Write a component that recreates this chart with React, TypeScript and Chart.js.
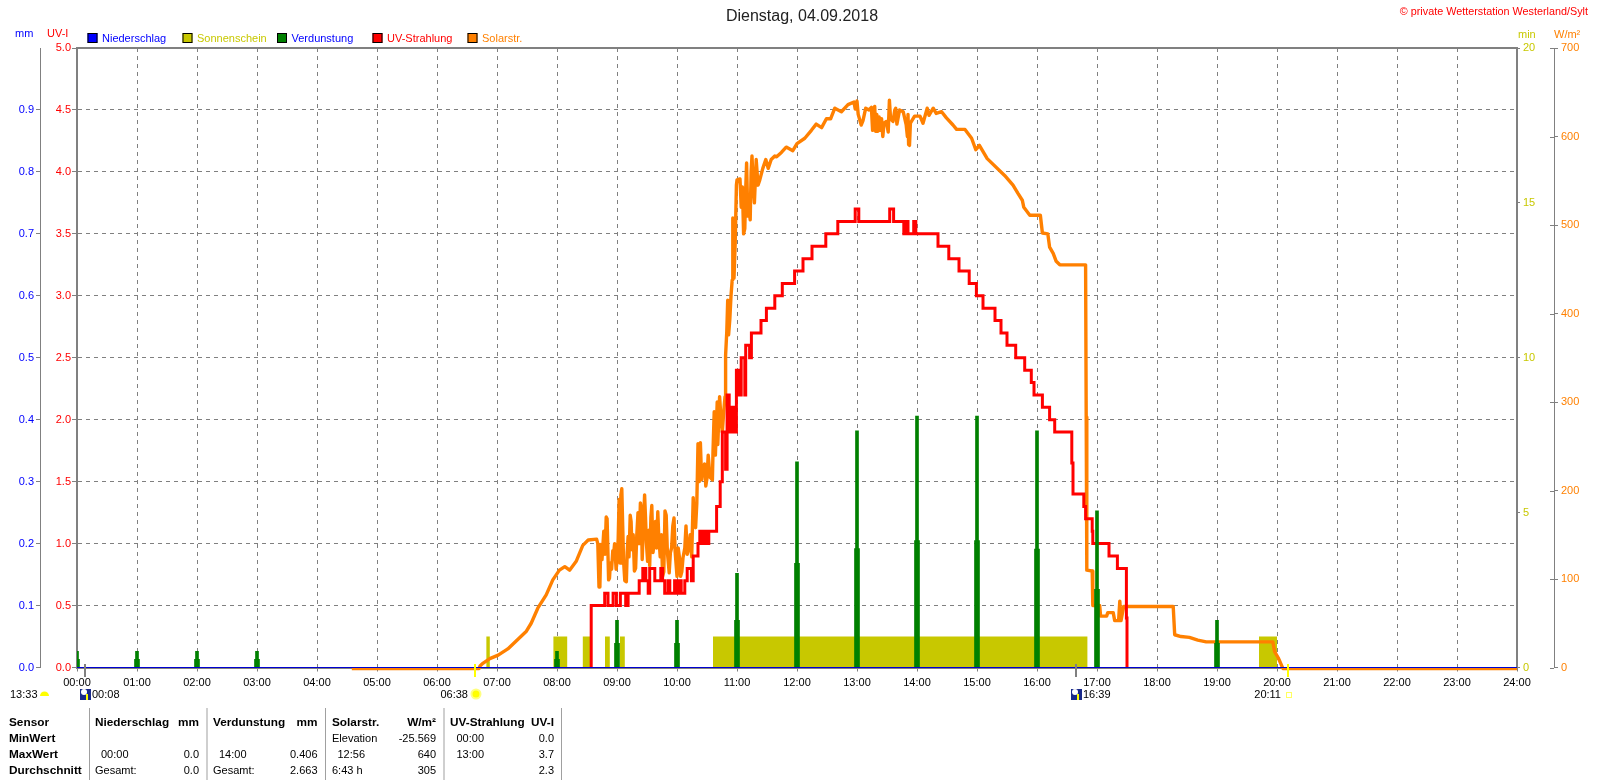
import React, { useEffect, useRef } from "react";
import { Chart, registerables } from "chart.js";

Chart.register(...registerables);

const chartTitle = "Dienstag, 04.09.2018";
const copyright = "© private Wetterstation Westerland/Sylt";

// Solar radiation, W/m², read in five stretches of the day
const solarRiseHours = [
  4.58, 6.7, 6.72, 6.77, 6.88, 7.02, 7.18, 7.35, 7.49, 7.57,
  7.68, 7.82, 7.93, 8.04, 8.13, 8.21, 8.32, 8.43, 8.52, 8.66,
];
const solarRiseWatts = [
  -1.3, -1.3, 2, 5, 10, 14, 21, 32, 41, 50,
  67, 82, 99, 110, 114, 110, 120, 138, 144, 145,
];
const solarNoiseHours = [
  8.68, 8.7, 8.715, 8.73, 8.75, 8.78, 8.8, 8.82, 8.835, 8.86,
  8.875, 8.89, 8.91, 8.93, 8.945, 8.96, 8.985, 9.0, 9.02, 9.035,
  9.05, 9.065, 9.08, 9.095, 9.11, 9.13, 9.156, 9.17, 9.185, 9.2,
  9.22, 9.235, 9.25, 9.27, 9.29, 9.31, 9.33, 9.35, 9.37, 9.39,
  9.405, 9.42, 9.44, 9.46, 9.475, 9.49, 9.51, 9.53, 9.545, 9.565,
  9.58, 9.6, 9.62, 9.64, 9.66, 9.68, 9.695, 9.72, 9.74, 9.76,
  9.78, 9.8, 9.82, 9.84, 9.87, 9.89, 9.91, 9.93, 9.95, 9.97,
  10.0, 10.02, 10.04, 10.06, 10.08, 10.1, 10.13, 10.15, 10.17, 10.2,
  10.22, 10.245, 10.27, 10.285, 10.31, 10.33, 10.35, 10.37, 10.39, 10.41,
  10.43, 10.46, 10.48, 10.5, 10.52, 10.55, 10.59, 10.6, 10.62, 10.64,
  10.67, 10.68, 10.71, 10.73, 10.755, 10.78, 10.8, 10.81, 10.83, 10.845,
  10.86, 10.88, 10.9, 10.92, 10.93, 10.95, 10.97, 10.99, 11.0, 11.05,
  11.07, 11.09, 11.11, 11.13, 11.145, 11.16, 11.18, 11.2, 11.22, 11.235,
  11.25, 11.27, 11.29, 11.32, 11.35, 11.38, 11.43, 11.48, 11.52, 11.57,
];
const solarNoiseWatts = [
  140, 91, 92, 139, 122, 154, 128, 170, 168, 99,
  101, 118, 111, 132, 129, 140, 111, 120, 146, 190,
  118, 195, 202, 160, 120, 98, 97, 130, 148, 125,
  172, 165, 133, 150, 109, 112, 150, 175, 140, 186,
  180, 122, 160, 195, 170, 141, 120, 155, 115, 170,
  183, 130, 141, 165, 135, 176, 150, 125, 150, 103,
  108, 177, 172, 130, 107, 130, 135, 160, 169, 130,
  103, 135, 125, 103, 108, 124, 135, 160, 128, 135,
  150, 125, 192, 170, 158, 185, 253, 210, 254, 212,
  225, 230, 205, 214, 240, 215, 212, 244, 289, 240,
  300, 252, 306, 285, 266, 290, 306, 353, 380, 415,
  376, 393, 420, 438, 508, 440, 480, 545, 551, 552,
  520, 543, 490, 496, 540, 570, 510, 517, 506, 560,
  578, 545, 525, 574, 545, 551, 564, 574, 564, 574,
];
const solarClimbHours = [
  11.63, 11.66, 11.74, 11.82, 11.93, 12.0, 12.13, 12.24, 12.32, 12.41,
  12.49, 12.56, 12.63, 12.74, 12.85, 12.95, 12.97, 13.0,
];
const solarClimbWatts = [
  578, 577, 582, 588, 584, 592, 598, 607, 614, 610,
  620, 620, 632, 628, 636, 639, 631, 640,
];
const solarPeakHours = [
  13.02, 13.07, 13.1, 13.145, 13.2, 13.24, 13.26, 13.28, 13.295, 13.31,
  13.33, 13.35, 13.37, 13.39, 13.41, 13.43, 13.45, 13.49, 13.52, 13.54,
  13.56, 13.6, 13.63, 13.645, 13.665, 13.71, 13.77, 13.82, 13.84, 13.85,
  13.86, 13.875, 13.89, 13.96, 14.05, 14.1, 14.17, 14.2, 14.27, 14.32,
  14.41, 14.49, 14.6, 14.66, 14.8, 14.91, 14.98, 15.04,
];
const solarPeakWatts = [
  625, 613, 618, 632, 630, 633, 607, 630, 634, 606,
  625, 606, 622, 607, 620, 600, 615, 617, 605, 641,
  620, 617, 630, 632, 614, 630, 628, 613, 600, 625,
  591, 590, 615, 623, 623, 615, 632, 624, 632, 626,
  628, 621, 613, 608, 608, 598, 585, 590,
];
const solarFallHours = [
  15.17, 15.46, 15.6, 15.68, 15.755, 15.78, 15.88, 16.056, 16.09, 16.18,
  16.21, 16.27, 16.32, 16.38, 16.81, 16.82, 16.83, 16.92, 16.93, 17.045,
  17.06, 17.16, 17.18, 17.27, 17.295, 17.36, 17.38, 17.4, 17.445, 18.27,
  18.295, 18.4, 18.54, 18.68, 18.82, 19.93, 19.96, 20.02, 20.1, 24,
];
const solarFallWatts = [
  575, 556, 545, 536, 528, 520, 511, 511, 491, 490,
  475, 468, 459, 455, 455, 283, 110, 109, 70, 70,
  58, 58, 62, 62, 53, 53, 75, 53, 69, 69,
  37, 35, 34, 31, 29, 29, 18, 11, -1.3, -1.3,
];
const solarHours = [...solarRiseHours, ...solarNoiseHours, ...solarClimbHours, ...solarPeakHours, ...solarFallHours];
const solarWatts = [...solarRiseWatts, ...solarNoiseWatts, ...solarClimbWatts, ...solarPeakWatts, ...solarFallWatts];

// UV index, each value holds until the next time
const uvHours = [
  8.56, 8.57, 8.795, 8.85, 8.935, 8.99, 9.056, 9.145, 9.185, 9.37, 9.43, 9.48, 9.52, 9.545, 9.63, 9.73, 9.76, 9.795, 9.85, 9.88,
  9.96, 9.99, 10.03, 10.07, 10.13, 10.17, 10.24, 10.27, 10.35, 10.38, 10.42, 10.46, 10.49, 10.53, 10.66, 10.72, 10.755,
  10.81, 10.835, 10.87, 10.905, 10.95, 10.99, 11.03, 11.07, 11.13, 11.145, 11.21, 11.24, 11.4, 11.49, 11.63, 11.755,
  11.96, 12.1, 12.25, 12.48, 12.68, 12.97, 13.03, 13.545, 13.61, 13.78, 13.82, 13.85, 13.945, 13.98, 14.35, 14.53, 14.7,
  14.87, 14.99, 15.1, 15.3, 15.4, 15.5, 15.645, 15.795, 15.905, 15.95, 16.09, 16.21, 16.295, 16.58, 16.6, 16.78, 16.81,
  16.92, 16.93, 17.2, 17.34, 17.49, 17.5,
];
const uvIndex = [
  0, 0.5, 0.6, 0.5, 0.6, 0.5, 0.6, 0.5, 0.6, 0.7, 0.8, 0.7, 0.6, 0.8, 0.7, 0.8, 0.7, 0.6, 0.7, 0.6,
  0.7, 0.6, 0.7, 0.6, 0.7, 0.8, 0.7, 0.9, 1.0, 1.1, 1.0, 1.1, 1.0, 1.1, 1.3, 1.5, 1.9,
  1.6, 2.2, 1.9, 2.1, 1.9, 2.4, 2.2, 2.5, 2.2, 2.6, 2.5, 2.7, 2.8, 2.9, 3.0, 3.1,
  3.2, 3.3, 3.4, 3.5, 3.6, 3.7, 3.6, 3.7, 3.6, 3.5, 3.6, 3.5, 3.6, 3.5, 3.4, 3.3, 3.2,
  3.1, 3.0, 2.9, 2.8, 2.7, 2.6, 2.5, 2.4, 2.3, 2.2, 2.1, 2.0, 1.9, 1.65, 1.4, 1.3, 1.2,
  1.1, 1.0, 0.9, 0.8, 0.4, 0,
];

// Evaporation, mm
const evapHours = [0, 1, 2, 3, 8, 9, 10, 11, 12, 13, 14, 15, 16, 17, 19];
const evapPeak = [0.026, 0.026, 0.026, 0.026, 0.026, 0.076, 0.076, 0.152, 0.332, 0.382, 0.406, 0.406, 0.382, 0.253, 0.076];
const evapBase = [0.013, 0.013, 0.013, 0.013, 0.013, 0.039, 0.039, 0.076, 0.168, 0.192, 0.205, 0.205, 0.191, 0.126, 0.039];

// Sunshine blocks, minutes per interval
const sunStart = [6.82, 7.94, 8.43, 8.8, 9.05, 10.6, 19.7];
const sunEnd = [6.88, 8.17, 8.55, 8.88, 9.13, 16.84, 20.0];
const sunMinutes = [1, 1, 1, 1, 1, 1, 1];

// Precipitation, mm
const rainHours = [0, 24];
const rainMm = [0, 0];

const mmLabel = "mm";
const uvLabel = "UV-I";
const minLabel = "min";
const wattLabel = "W/m²";

// Table under the chart
const tableHeads = ["Sensor", "Niederschlag", "mm", "Verdunstung", "mm", "Solarstr.", "W/m²", "UV-Strahlung", "UV-I"];
const rowNames = ["MinWert", "MaxWert", "Durchschnitt"];
const rainRows = [["", ""], ["00:00", "0.0"], ["Gesamt:", "0.0"]];
const evapRows = [["", ""], ["14:00", "0.406"], ["Gesamt:", "2.663"]];
const solarRows = [["Elevation", "-25.569"], ["12:56", "640"], ["6:43 h", "305"]];
const uvRows = [["00:00", "0.0"], ["13:00", "3.7"], ["", "2.3"]];

// Sun and moon marks
const moonRiseHour = 0.133;
const sunRiseHour = 6.633;
const moonSetHour = 16.65;
const sunSetHour = 20.183;
const dayLength = "13:33";
const moonRiseText = "00:08";
const sunRiseText = "06:38";
const moonSetText = "16:39";
const sunSetText = "20:11";

const FONT = '"Liberation Sans", Arial, sans-serif';
const GREY = "#808080";
const OLIVE = "#C8C800";
const ORANGE = "#FF8000";

const points = (xs: number[], ys: number[]) => xs.map((x, i) => ({ x, y: ys[i] }));
const sunshinePoints = () =>
  sunStart.flatMap((s, i) => [
    { x: s, y: 0 },
    { x: s, y: sunMinutes[i] },
    { x: sunEnd[i], y: sunMinutes[i] },
    { x: sunEnd[i], y: 0 },
  ]);

const overlay = {
  id: "overlay",
  beforeDatasetsDraw(chart: any) {
    const { ctx, chartArea: a } = chart;
    ctx.save();
    ctx.strokeStyle = GREY;
    ctx.lineWidth = 2;
    ctx.beginPath();
    ctx.moveTo(a.left, a.top);
    ctx.lineTo(a.right, a.top);
    ctx.lineTo(a.right, a.bottom);
    ctx.stroke();
    ctx.restore();
  },
  afterDraw(chart: any) {
    const { ctx, scales } = chart;
    const x = scales.x;
    const text = (s: string, px: number, py: number, align: string, color: string, font = `11px ${FONT}`) => {
      ctx.font = font;
      ctx.fillStyle = color;
      ctx.textAlign = align;
      ctx.textBaseline = "middle";
      ctx.fillText(s, px, py + 1);
    };
    ctx.save();
    text(copyright, 1588, 11, "right", "#FF0000", `10.8px ${FONT}`);
    text(mmLabel, 15, 33, "left", "#0000FF");
    text(uvLabel, 47, 33, "left", "#FF0000");
    text(minLabel, 1518, 33.5, "left", OLIVE);
    text(wattLabel, 1554, 33.5, "left", ORANGE);

    // legend
    const boxX = [87.5, 182.5, 277, 372.5, 467.5];
    chart.data.datasets
      .filter((d: any) => d.legendText)
      .forEach((d: any, i: number) => {
        ctx.fillStyle = d.legendBox;
        ctx.fillRect(boxX[i], 33, 10, 10);
        ctx.strokeStyle = "#000";
        ctx.lineWidth = 1;
        ctx.strokeRect(boxX[i] + 0.5, 33.5, 9, 9);
        text(d.label, boxX[i] + 14.5, 38, "left", d.legendText);
      });

    // W/m² axis ticks also reach left of the line
    ctx.strokeStyle = GREY;
    ctx.lineWidth = 1;
    scales.w.ticks.forEach((t: any) => {
      const py = Math.round(scales.w.getPixelForValue(t.value)) + 0.5;
      ctx.beginPath();
      ctx.moveTo(scales.w.left - 4, py);
      ctx.lineTo(scales.w.left, py);
      ctx.stroke();
    });

    // sun / moon marks on the time axis
    const mark = (h: number, color: string, w = 2) => {
      ctx.fillStyle = color;
      ctx.fillRect(Math.round(x.getPixelForValue(h)) - w / 2, 664, w, 13);
    };
    mark(sunRiseHour, "#FFFF00");
    mark(sunSetHour, "#FFFF00");
    mark(moonRiseHour, GREY);
    mark(moonSetHour, GREY);

    const rowY = 694;
    text(dayLength, 10, rowY, "left", "#000");
    ctx.fillStyle = "#FFFF00";
    ctx.beginPath();
    ctx.arc(44.5, 696, 4.5, Math.PI, 0);
    ctx.fill();

    const moonIcon = (h: number) => {
      const cx = Math.round(x.getPixelForValue(h));
      ctx.fillStyle = "#1A2A8A";
      ctx.fillRect(cx - 5, rowY - 5, 11, 11);
      ctx.fillStyle = "#FFFFFF";
      ctx.beginPath();
      ctx.arc(cx - 1, rowY - 2, 3, 0, Math.PI * 2);
      ctx.fill();
      ctx.fillStyle = "#FFFF00";
      ctx.fillRect(cx + 1, rowY, 2, 6);
    };
    moonIcon(moonRiseHour);
    text(moonRiseText, x.getPixelForValue(moonRiseHour) + 7, rowY, "left", "#000");
    moonIcon(moonSetHour);
    text(moonSetText, x.getPixelForValue(moonSetHour) + 7, rowY, "left", "#000");

    const sx = x.getPixelForValue(sunRiseHour);
    text(sunRiseText, sx - 7, rowY, "right", "#000");
    ctx.fillStyle = "#FFFF80";
    ctx.beginPath();
    ctx.arc(sx + 1, rowY, 5.5, 0, Math.PI * 2);
    ctx.fill();
    ctx.fillStyle = "#FFFF00";
    ctx.beginPath();
    ctx.arc(sx + 1, rowY, 3.5, 0, Math.PI * 2);
    ctx.fill();

    const ex = x.getPixelForValue(sunSetHour);
    text(sunSetText, ex - 7, rowY, "right", "#000");
    ctx.strokeStyle = "#FFFF60";
    ctx.lineWidth = 1;
    ctx.strokeRect(Math.round(ex) - 1.5, 692.5, 5, 5);

    // table
    const bold = `bold 11.8px ${FONT}`;
    const heads: [number, string][] = [
      [9, "left"], [95, "left"], [199, "right"], [213, "left"], [317.5, "right"],
      [332, "left"], [436, "right"], [450, "left"], [554, "right"],
    ];
    tableHeads.forEach((h, i) => text(h, heads[i][0], 722, heads[i][1], "#000", bold));
    const rowYs = [738, 754, 770];
    rowNames.forEach((r, i) => text(r, 9, rowYs[i], "left", "#000", bold));
    const column = (rows: string[][], labelX: number, timeX: number, valueX: number) =>
      rows.forEach((r, i) => {
        const isTime = /^\d\d:\d\d$/.test(r[0]);
        text(r[0], isTime ? timeX : labelX, rowYs[i], "left", "#000");
        text(r[1], valueX, rowYs[i], "right", "#000");
      });
    column(rainRows, 95, 101, 199);
    column(evapRows, 213, 219, 317.5);
    column(solarRows, 332, 337.5, 436);
    column(uvRows, 456.5, 456.5, 554);
    ctx.fillStyle = "#A0A0A0";
    [89, 206.5, 325, 443.5, 561].forEach((sep) => ctx.fillRect(sep, 708, 1, 72));
    ctx.restore();
  },
};

export default function App() {
  const ref = useRef<HTMLCanvasElement>(null);
  useEffect(() => {
    const common = { pointRadius: 0, tension: 0 };
    const chart = new Chart(ref.current!, {
      type: "line",
      data: {
        datasets: [
          {
            ...common, label: "Niederschlag", xAxisID: "x", yAxisID: "mm", order: 1, clip: false,
            data: points(rainHours, rainMm), borderColor: "#0000D0", borderWidth: 1,
            legendBox: "#0000FF", legendText: "#0000FF",
          },
          {
            ...common, label: "Sonnenschein", xAxisID: "x", yAxisID: "min", order: 7,
            data: sunshinePoints(), borderWidth: 0, borderColor: OLIVE, backgroundColor: OLIVE, fill: "origin",
            legendBox: OLIVE, legendText: OLIVE,
          },
          {
            type: "bar", label: "Verdunstung", xAxisID: "x", yAxisID: "mm", order: 3,
            data: points(evapHours, evapPeak), backgroundColor: "#008000", barThickness: 3, grouped: false,
            legendBox: "#008000", legendText: "#0000FF",
          },
          {
            type: "bar", label: "Verdunstung Summe", xAxisID: "x", yAxisID: "mm", order: 2,
            data: points(evapHours, evapBase), backgroundColor: "#008000", barThickness: 5, grouped: false,
          },
          {
            ...common, label: "UV-Strahlung", xAxisID: "x", yAxisID: "uv", order: 4,
            data: points(uvHours, uvIndex), borderColor: "#FF0000", borderWidth: 3, stepped: "before",
            legendBox: "#FF0000", legendText: "#FF0000",
          },
          {
            ...common, label: "Solarstr.", xAxisID: "x", yAxisID: "w", order: 5, clip: false,
            data: points(solarHours, solarWatts), borderColor: ORANGE, borderWidth: 3.4,
            borderJoinStyle: "round", borderCapStyle: "butt",
            legendBox: ORANGE, legendText: ORANGE,
          },
        ] as any,
      },
      options: {
        animation: false,
        responsive: false,
        devicePixelRatio: 1,
        layout: { padding: { left: 4, top: 0, right: 0, bottom: 0 } },
        plugins: {
          legend: { display: false },
          tooltip: { enabled: false },
          title: {
            display: true,
            text: chartTitle,
            color: "#222",
            font: { family: FONT, size: 16, weight: "normal", lineHeight: 1.2 },
            padding: { top: 7, bottom: 21.8 },
          },
        },
        scales: {
          x: {
            type: "linear", min: 0, max: 24, offset: false,
            grid: { offset: false, color: GREY, tickColor: GREY, tickLength: 4, tickBorderDash: [] },
            border: { color: GREY, width: 2, dash: [4, 4] },
            ticks: {
              stepSize: 1, autoSkip: false, maxRotation: 0, padding: 5, color: "#000",
              font: { family: FONT, size: 11 },
              callback: (v: any) => `${String(v).padStart(2, "0")}:00`,
            },
            afterFit: (s: any) => { s.height = 112.5; },
          },
          uv: {
            type: "linear", position: "left", min: 0, max: 5, weight: 0,
            grid: { color: GREY, tickColor: GREY, tickLength: 5, tickBorderDash: [] },
            border: { color: GREY, width: 2, dash: [4, 4] },
            ticks: {
              stepSize: 0.5, padding: 1, color: "#FF0000", font: { family: FONT, size: 11 },
              callback: (v: any) => Number(v).toFixed(1),
            },
            afterFit: (s: any) => { s.width = 37; },
          },
          mm: {
            type: "linear", position: "left", min: 0, max: 1, weight: 1,
            grid: { drawOnChartArea: false, color: GREY, tickColor: GREY, tickLength: 4 },
            border: { color: GREY, width: 1 },
            ticks: {
              stepSize: 0.1, padding: 2, color: "#0000FF", font: { family: FONT, size: 11 },
              callback: (v: any) => Number(v).toFixed(1),
            },
            afterBuildTicks: (s: any) => { s.ticks = s.ticks.filter((t: any) => t.value < 0.95); },
            afterFit: (s: any) => { s.width = 36; },
          },
          min: {
            type: "linear", position: "right", min: 0, max: 20, weight: 0,
            grid: { drawOnChartArea: false, color: GREY, tickColor: GREY, tickLength: 3 },
            border: { display: false },
            ticks: { stepSize: 5, padding: 3, color: OLIVE, font: { family: FONT, size: 11 } },
            afterFit: (s: any) => { s.width = 37; },
          },
          w: {
            type: "linear", position: "right", min: 0, max: 700, weight: 1,
            grid: { drawOnChartArea: false, color: GREY, tickColor: GREY, tickLength: 4 },
            border: { color: GREY, width: 1 },
            ticks: { stepSize: 100, padding: 3, color: ORANGE, font: { family: FONT, size: 11 } },
            afterFit: (s: any) => { s.width = 46; },
          },
        },
      } as any,
      plugins: [overlay],
    });
    return () => chart.destroy();
  }, []);
  return (
    <div style={{ position: "absolute", left: 0, top: 0, width: 1600, height: 780, background: "#fff" }}>
      <canvas ref={ref} width={1600} height={780} style={{ display: "block" }} />
    </div>
  );
}
